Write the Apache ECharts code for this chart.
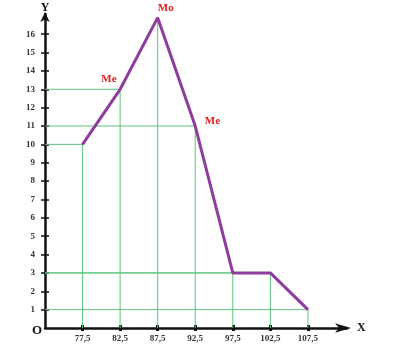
<!DOCTYPE html>
<html><head><meta charset="utf-8">
<script src="https://cdn.jsdelivr.net/npm/echarts@6/dist/echarts.min.js"></script>
<style>html,body{margin:0;padding:0;background:#fff}#c{width:394px;height:346px}</style>
</head><body><div id="c"></div>
<script>
const xValues = [77.5, 82.5, 87.5, 92.5, 97.5, 102.5, 107.5];
const yValues = [10, 13, 16.9, 11, 3, 3, 1];
const pointNames = ['', 'Me', 'Mo', 'Me', '', '', ''];
const hGuide = [true, true, false, true, true, true, true];
const xTicks = [77.5, 82.5, 87.5, 92.5, 97.5, 102.5, 107.5];
const yTicks = [1,2,3,4,5,6,7,8,9,10,11,12,13,14,15,16];

const X0 = 72.5, Y0 = 0;
const green = '#5cc47c';
const purple = '#8e3c9e';
const serif = '"Liberation Serif","DejaVu Serif",serif';

const series = [];
xValues.forEach((x, i) => {
  const y = yValues[i];
  series.push({type:'line', data:[[x, Y0],[x, y]], symbol:'none', silent:true,
    lineStyle:{color:green, width:1}, z:1});
  if (hGuide[i]) series.push({type:'line', data:[[X0, y],[x, y]], symbol:'none', silent:true,
    lineStyle:{color:green, width:1}, z:1});
});
series.push({
  type:'line', z:5,
  data: xValues.map((x,i) => {
    const d = {value:[x, yValues[i]]};
    if (pointNames[i]) {
      let lab = {show:true, formatter: pointNames[i], color:'#e02020', fontFamily:serif,
        fontWeight:'bold', fontSize:11};
      if (i === 1) Object.assign(lab, {position:'left', offset:[2,-10]});
      else if (i === 2) Object.assign(lab, {position:'top', offset:[8,1]});
      else Object.assign(lab, {position:'right', offset:[4,-5]});
      d.label = lab;
    }
    return d;
  }),
  symbol:'circle', symbolSize:1, showSymbol:true,
  itemStyle:{color:purple},
  lineStyle:{color:purple, width:3},
  label:{show:false}
});

const lbl = {fontFamily:serif, fontWeight:'bold', fontSize:9, color:'#333'};
const chart = echarts.init(document.getElementById('c'));
chart.setOption({
  animation:false,
  grid:{left:45, right:47, top:14, bottom:18},
  xAxis:[{
    type:'value', min:X0, max:112.7,
    name:'X', nameGap:10, nameLocation:'end',
    nameTextStyle:{fontFamily:serif, fontWeight:'bold', fontSize:12, color:'#111', verticalAlign:'middle'},
    axisLine:{lineStyle:{color:'#111', width:2.5}, symbol:['none','arrow'], symbolSize:[7,16], symbolOffset:[0,4]},
    axisTick:{show:true, customValues:xTicks, length:3, lineStyle:{color:'#111', width:3}},
    axisLabel:Object.assign({customValues:xTicks, margin:6, formatter: v => String(v).replace('.', ',')}, lbl),
    splitLine:{show:false}
  },{
    type:'value', min:X0, max:112.7, position:'bottom',
    axisLine:{show:false},
    axisTick:{show:true, inside:true, customValues:xTicks, length:3, lineStyle:{color:'#111', width:3}},
    axisLabel:{show:false}, splitLine:{show:false}
  }],
  yAxis:[{
    type:'value', min:0, max:17.1,
    name:'Y', nameGap:0, nameLocation:'end',
    nameTextStyle:{fontFamily:serif, fontWeight:'bold', fontSize:12, color:'#111', align:'center'},
    axisLine:{lineStyle:{color:'#111', width:2.5}, symbol:['none','arrow'], symbolSize:[7,10], symbolOffset:[0,2]},
    axisTick:{show:true, customValues:yTicks, length:4, lineStyle:{color:'#111', width:1.5}},
    axisLabel:Object.assign({customValues:yTicks, margin:10}, lbl),
    splitLine:{show:false}
  },{
    type:'value', min:0, max:17.1, position:'left',
    axisLine:{show:false},
    axisTick:{show:true, inside:true, customValues:yTicks, length:4, lineStyle:{color:'#111', width:1.5}},
    axisLabel:{show:false}, splitLine:{show:false}
  }],
  graphic:[{type:'text', left:32, top:324, style:{text:'O', font:'bold 13px "Liberation Serif", serif', fill:'#111'}}],
  series
});
</script></body></html>
